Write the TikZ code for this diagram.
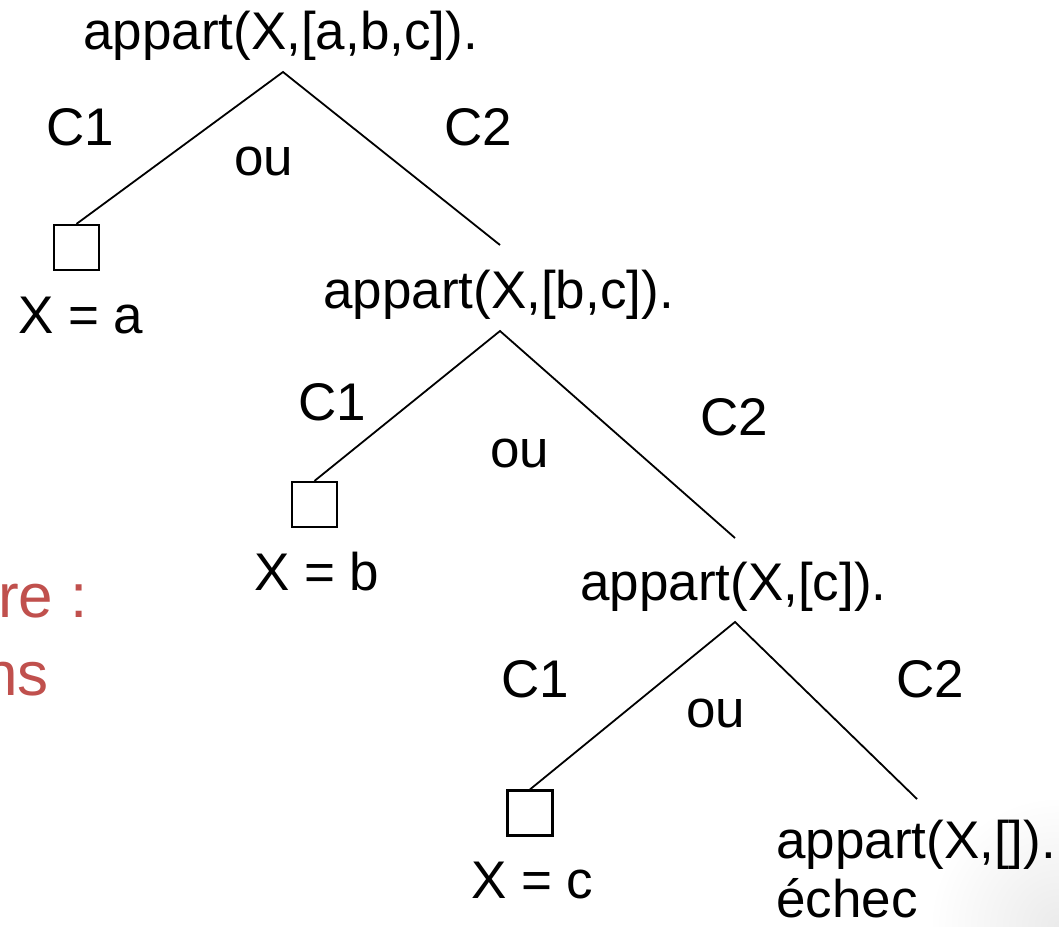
\documentclass[tikz,border=0pt]{standalone}
\usepackage{fontspec}
\setmainfont{Liberation Sans}
\definecolor{redtxt}{HTML}{C0504D}
\begin{document}
\begin{tikzpicture}[x=1pt,y=-1pt,
  lbl/.style={inner sep=0pt, anchor=base west, font=\fontsize{53}{60}\selectfont},
  redlbl/.style={inner sep=0pt, anchor=base east, text=redtxt, font=\fontsize{62}{70}\selectfont},
  leaf/.style={draw, line width=2.2pt, minimum size=45pt, inner sep=0pt},
  branch/.style={line width=1.8pt}]
\useasboundingbox (0,0) rectangle (1059,926);
\shade[inner color=black!8, outer color=white] (1059,926) circle (130);

% red partial text
\node[redlbl] (r1) at (88,617) {re :};
\node[redlbl] (r2) at (49,695) {ns};

% level 0
\node[lbl] (root) at (83,49) {appart(X,[a,b,c]).};
\coordinate (apex0) at (283,72);
\node[leaf] (box1) at (76.5,247.5) {};
\node[lbl] (xa) at (18,333) {X = a};
\coordinate (end0) at (500,245);
\draw[branch] (box1.north) -- (apex0) -- (end0);
\node[lbl] (c1a) at (46,145) {C1};
\node[lbl] (oua) at (234,175) {ou};
\node[lbl] (c2a) at (444,145) {C2};

% level 1
\node[lbl] (n2) at (323,308) {appart(X,[b,c]).};
\coordinate (apex1) at (500,331);
\node[leaf] (box2) at (314.5,504.5) {};
\node[lbl] (xb) at (254,590) {X = b};
\coordinate (end1) at (735,538);
\draw[branch] (box2.north) -- (apex1) -- (end1);
\node[lbl] (c1b) at (298,420) {C1};
\node[lbl] (oub) at (490,467) {ou};
\node[lbl] (c2b) at (700,435) {C2};

% level 2
\node[lbl] (n3) at (580,600) {appart(X,[c]).};
\coordinate (apex2) at (735,622);
\node[leaf] (box3) at (530,813) {};
\node[lbl] (xc) at (471,898) {X = c};
\coordinate (end2) at (917,799);
\draw[branch] (box3.north) -- (apex2) -- (end2);
\node[lbl] (c1c) at (501,697) {C1};
\node[lbl] (ouc) at (686,727) {ou};
\node[lbl] (c2c) at (896,697) {C2};

% level 3
\node[lbl] (n4) at (776,858) {appart(X,[]).};
\node[lbl] (fail) at (776,917) {échec};
\end{tikzpicture}
\end{document}
